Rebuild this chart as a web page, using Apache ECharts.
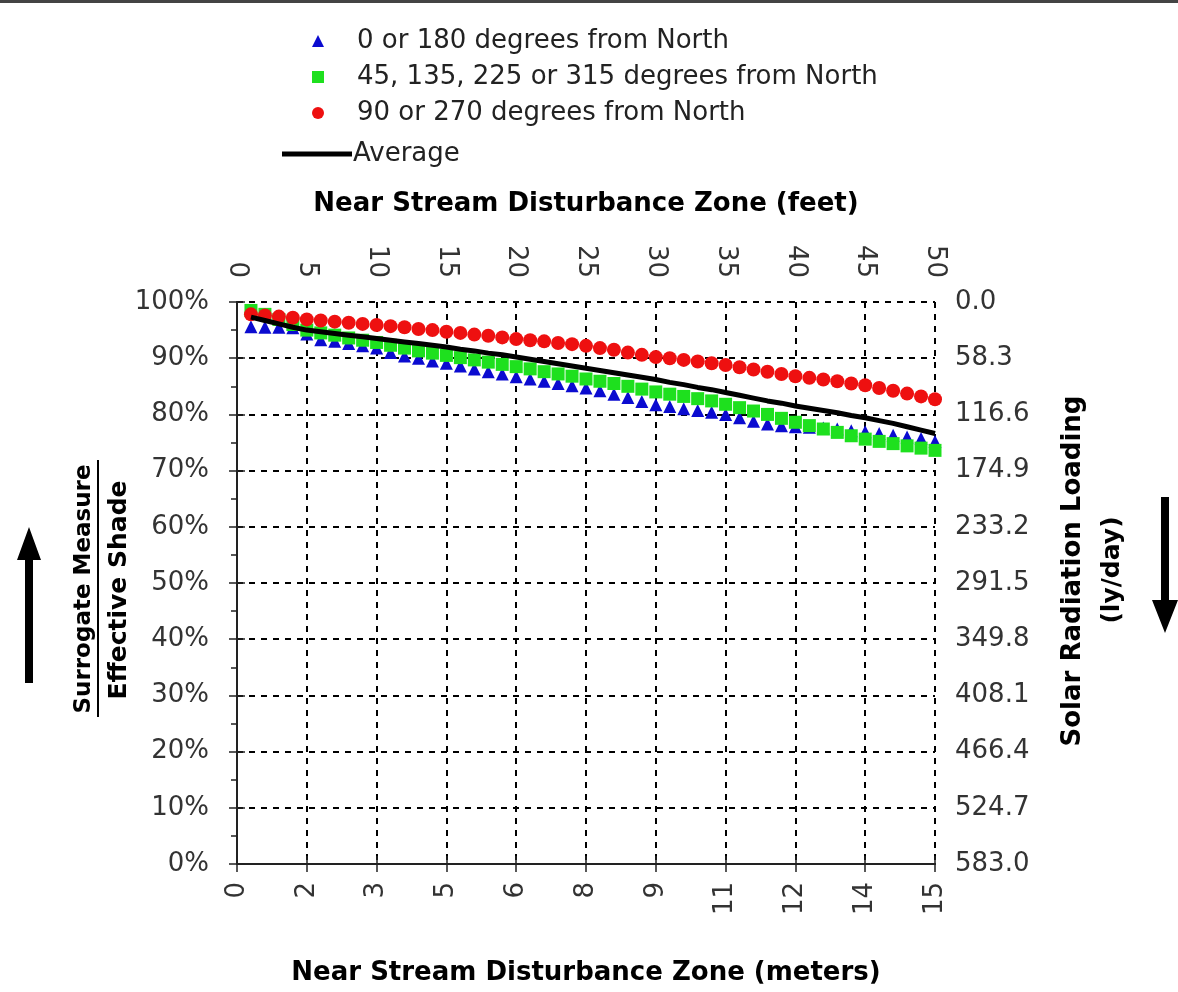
<!DOCTYPE html>
<html>
<head>
<meta charset="utf-8">
<script src="https://cdn.jsdelivr.net/npm/echarts@6/dist/echarts.min.js"></script>
<style>
  html, body { margin: 0; padding: 0; background: #fff; }
  #chart { width: 1178px; height: 992px; }
</style>
</head>
<body>
<div id="chart"></div>
<script>
// distance from stream, feet
const distanceFeet = [1, 2, 3, 4, 5, 6, 7, 8, 9, 10, 11, 12, 13, 14, 15, 16, 17, 18, 19, 20,
  21, 22, 23, 24, 25, 26, 27, 28, 29, 30, 31, 32, 33, 34, 35, 36, 37, 38, 39, 40,
  41, 42, 43, 44, 45, 46, 47, 48, 49, 50];

// effective shade (%) by stream aspect
const shadeNorthSouth = [95.6, 95.5, 95.5, 95.4, 94.3, 93.3, 93.0, 92.6, 92.2, 91.8,
  91.0, 90.4, 90.0, 89.5, 89.1, 88.6, 88.1, 87.6, 87.2, 86.7,
  86.3, 85.9, 85.5, 85.1, 84.7, 84.2, 83.6, 83.0, 82.3, 81.7,
  81.4, 81.0, 80.7, 80.4, 80.0, 79.4, 78.8, 78.3, 78.0, 77.8,
  77.7, 77.6, 77.4, 77.1, 76.9, 76.6, 76.3, 76.0, 75.7, 75.2];
const shadeDiagonal = [98.5, 97.8, 96.9, 96.0, 95.0, 94.5, 94.1, 93.6, 93.2, 92.8,
  92.3, 91.8, 91.3, 90.9, 90.5, 90.1, 89.7, 89.3, 88.9, 88.5,
  88.1, 87.6, 87.2, 86.8, 86.3, 85.9, 85.5, 85.0, 84.5, 84.0,
  83.6, 83.2, 82.8, 82.4, 81.8, 81.2, 80.6, 80.0, 79.3, 78.6,
  78.0, 77.4, 76.8, 76.2, 75.6, 75.2, 74.8, 74.4, 74.0, 73.6];
const shadeEastWest = [97.8, 97.6, 97.4, 97.2, 96.9, 96.7, 96.5, 96.3, 96.1, 95.9,
  95.7, 95.5, 95.2, 95.0, 94.7, 94.5, 94.2, 94.0, 93.7, 93.4,
  93.2, 93.0, 92.7, 92.5, 92.2, 91.8, 91.5, 91.0, 90.6, 90.2,
  90.0, 89.7, 89.4, 89.1, 88.8, 88.4, 88.0, 87.6, 87.2, 86.8,
  86.5, 86.2, 85.9, 85.5, 85.2, 84.7, 84.2, 83.7, 83.2, 82.7];
const shadeAverage = [97.3, 96.7, 96.1, 95.5, 95.0, 94.7, 94.4, 94.1, 93.8, 93.5,
  93.2, 92.9, 92.6, 92.3, 92.0, 91.6, 91.3, 90.9, 90.6, 90.2,
  89.8, 89.4, 89.0, 88.6, 88.2, 87.8, 87.4, 87.0, 86.6, 86.2,
  85.7, 85.3, 84.8, 84.4, 83.9, 83.4, 82.9, 82.4, 82.0, 81.5,
  81.1, 80.7, 80.3, 79.8, 79.4, 78.9, 78.4, 77.8, 77.2, 76.6];

// tick labels
const feetLabels = ['0', '5', '10', '15', '20', '25', '30', '35', '40', '45', '50'];
const meterLabels = ['0', '2', '3', '5', '6', '8', '9', '11', '12', '14', '15'];
const shadeLabels = ['0%', '10%', '20%', '30%', '40%', '50%', '60%', '70%', '80%', '90%', '100%'];
const radiationLabels = ['0.0', '58.3', '116.6', '174.9', '233.2', '291.5', '349.8', '408.1', '466.4', '524.7', '583.0'];

const pairs = (ys) => distanceFeet.map((x, i) => [x, ys[i]]);

const FONT = 'DejaVu Sans';
const tickLabel = { fontFamily: FONT, fontSize: 26, color: '#333' };
const titleStyle = { fontFamily: FONT, fontWeight: 'bold', fontSize: 26, color: '#000' };
const axisLine = { show: true, lineStyle: { color: '#222', width: 2 } };
const dashed = { show: true, lineStyle: { color: '#000', width: 2, type: [6, 6] } };

// second copy of each axis only draws the inner half of the crossing ticks
const innerTicks = (extra) => Object.assign({
  type: 'value', min: 0, max: extra.kind === 'x' ? 50 : 100, interval: extra.kind === 'x' ? 5 : 10,
  axisLine: { show: false },
  axisTick: { show: true, inside: true, length: 7, lineStyle: { color: '#222', width: 1.5 } },
  axisLabel: { show: false },
  splitLine: { show: false }
}, extra.opt);

const chart = echarts.init(document.getElementById('chart'));

chart.setOption({
  backgroundColor: '#fff',
  animation: false,
  grid: { left: 237, right: 243, top: 302, bottom: 128 },
  legend: [
    {
      orient: 'vertical',
      left: 312,
      top: 26,
      padding: 0,
      itemWidth: 12,
      itemHeight: 12,
      itemGap: 6,
      textStyle: { fontFamily: FONT, fontSize: 26, color: '#222', lineHeight: 30, padding: [0, 0, 0, 28] },
      data: ['0 or 180 degrees from North', '45, 135, 225 or 315 degrees from North', '90 or 270 degrees from North']
    },
    {
      orient: 'vertical',
      left: 282,
      top: 139,
      padding: 0,
      itemWidth: 70,
      itemHeight: 5,
      textStyle: { fontFamily: FONT, fontSize: 26, color: '#222', lineHeight: 30, padding: [0, 0, 0, -4] },
      data: [{ name: 'Average', icon: 'rect' }]
    }
  ],
  xAxis: [
    {
      type: 'value', position: 'top', min: 0, max: 50, interval: 5,
      name: 'Near Stream Disturbance Zone (feet)',
      nameLocation: 'middle', nameGap: 85, nameTextStyle: titleStyle,
      axisLine: axisLine,
      axisTick: { show: true, length: 8, lineStyle: { color: '#222', width: 1.5 } },
      axisLabel: Object.assign({ rotate: -90, margin: 24, formatter: (v) => feetLabels[Math.round(v / 5)] }, tickLabel),
      splitLine: dashed
    },
    {
      type: 'value', position: 'bottom', min: 0, max: 50, interval: 5,
      name: 'Near Stream Disturbance Zone (meters)',
      nameLocation: 'middle', nameGap: 96, nameTextStyle: titleStyle,
      axisLine: axisLine,
      axisTick: { show: true, length: 8, lineStyle: { color: '#222', width: 1.5 } },
      axisLabel: Object.assign({ rotate: 90, margin: 18, formatter: (v) => meterLabels[Math.round(v / 5)] }, tickLabel),
      splitLine: { show: false }
    },
    innerTicks({ kind: 'x', opt: { position: 'top' } }),
    innerTicks({ kind: 'x', opt: { position: 'bottom' } })
  ],
  yAxis: [
    {
      type: 'value', position: 'left', min: 0, max: 100, interval: 10,
      axisLine: axisLine,
      axisTick: { show: true, length: 8, lineStyle: { color: '#222', width: 1.5 } },
      minorTick: { show: true, splitNumber: 2, length: 6, lineStyle: { color: '#222', width: 1.5 } },
      axisLabel: Object.assign({ margin: 28, formatter: (v) => shadeLabels[Math.round(v / 10)] }, tickLabel),
      splitLine: dashed
    },
    {
      type: 'value', position: 'right', min: 0, max: 100, interval: 10,
      axisLine: axisLine,
      axisTick: { show: true, length: 8, lineStyle: { color: '#222', width: 1.5 } },
      axisLabel: Object.assign({ margin: 20, formatter: (v) => radiationLabels[Math.round((100 - v) / 10)] }, tickLabel),
      splitLine: { show: false }
    },
    innerTicks({ kind: 'y', opt: { position: 'left' } }),
    innerTicks({ kind: 'y', opt: { position: 'right' } })
  ],
  series: [
    {
      name: '0 or 180 degrees from North',
      type: 'scatter',
      symbol: 'triangle',
      symbolSize: 13,
      itemStyle: { color: '#0b0bd0', opacity: 1 },
      data: pairs(shadeNorthSouth)
    },
    {
      name: '45, 135, 225 or 315 degrees from North',
      type: 'scatter',
      symbol: 'rect',
      symbolSize: 13,
      itemStyle: { color: '#1ee01e', opacity: 1 },
      data: pairs(shadeDiagonal)
    },
    {
      name: 'Average',
      type: 'line',
      symbol: 'none',
      lineStyle: { color: '#000', width: 5 },
      itemStyle: { color: '#000' },
      data: pairs(shadeAverage)
    },
    {
      name: '90 or 270 degrees from North',
      type: 'scatter',
      symbol: 'circle',
      symbolSize: 14,
      itemStyle: { color: '#ee1010', opacity: 1 },
      data: pairs(shadeEastWest)
    }
  ],
  graphic: [
    { type: 'rect', shape: { x: 0, y: 0, width: 1178, height: 3 }, style: { fill: '#444' } },
    {
      type: 'text', x: 84, y: 589, rotation: Math.PI / 2,
      style: { text: 'Surrogate Measure', font: 'bold 23px "DejaVu Sans"', fill: '#000', align: 'center', verticalAlign: 'middle' }
    },
    { type: 'line', shape: { x1: 98, y1: 460, x2: 98, y2: 717 }, style: { stroke: '#000', lineWidth: 2 } },
    {
      type: 'text', x: 119, y: 590, rotation: Math.PI / 2,
      style: { text: 'Effective Shade', font: 'bold 25px "DejaVu Sans"', fill: '#000', align: 'center', verticalAlign: 'middle' }
    },
    {
      type: 'polygon',
      shape: { points: [[25, 683], [33, 683], [33, 560], [41, 560], [29, 527], [17, 560], [25, 560]] },
      style: { fill: '#000' }
    },
    {
      type: 'text', x: 1073, y: 571, rotation: Math.PI / 2,
      style: { text: 'Solar Radiation Loading', font: 'bold 26px "DejaVu Sans"', fill: '#000', align: 'center', verticalAlign: 'middle' }
    },
    {
      type: 'text', x: 1112, y: 570, rotation: Math.PI / 2,
      style: { text: '(ly/day)', font: 'bold 25px "DejaVu Sans"', fill: '#000', align: 'center', verticalAlign: 'middle' }
    },
    {
      type: 'polygon',
      shape: { points: [[1161, 497], [1169, 497], [1169, 600], [1178, 600], [1165, 633], [1152, 600], [1161, 600]] },
      style: { fill: '#000' }
    }
  ]
});
</script>
</body>
</html>
